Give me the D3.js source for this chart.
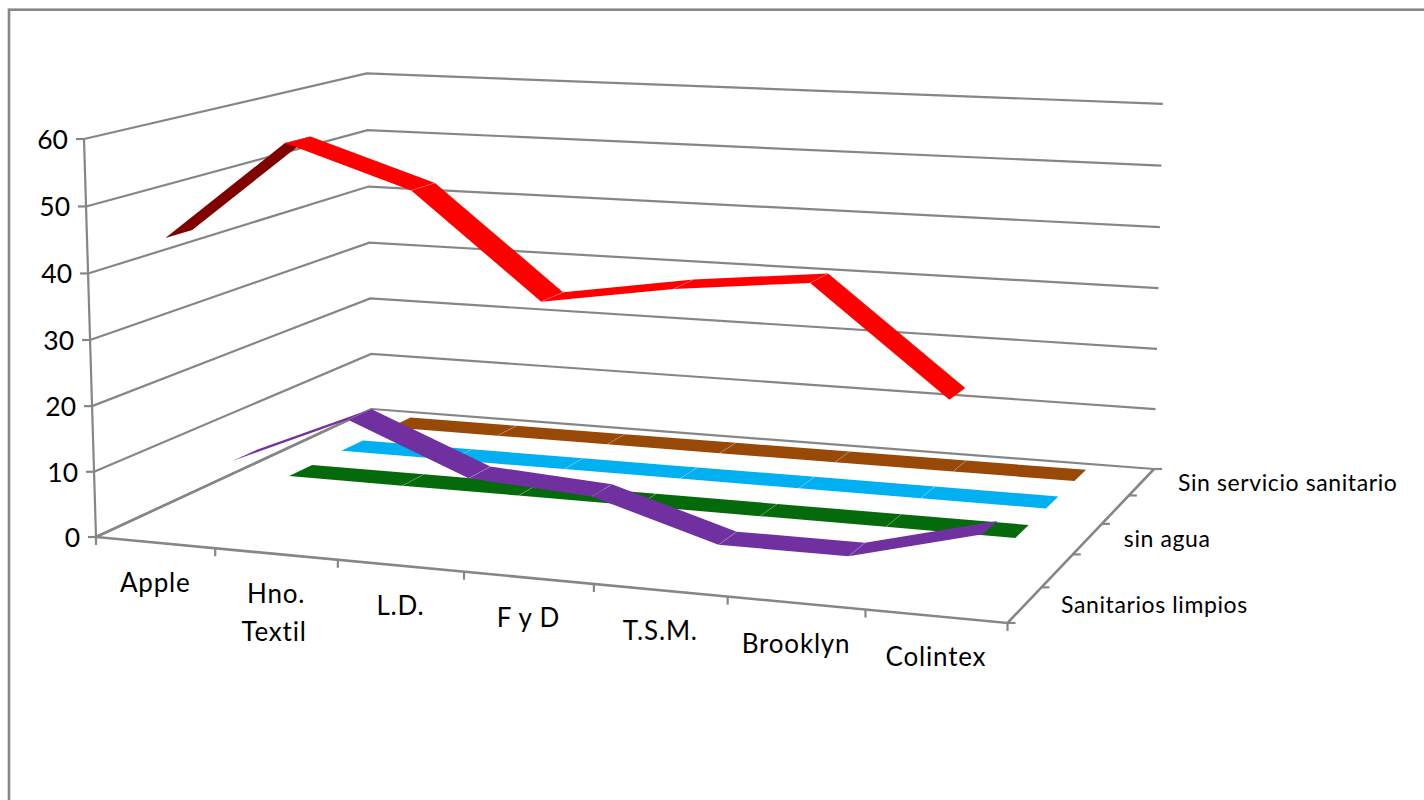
<!DOCTYPE html>
<html lang="es">
<head>
<meta charset="utf-8">
<title>Gráfico de líneas 3D</title>
<script src="https://cdn.jsdelivr.net/npm/d3@7"></script>
<style>
html,body{margin:0;padding:0;background:#fff;overflow:hidden}
svg{display:block}
text{font-family:Lato,"Open Sans",sans-serif;fill:#000}
</style>
</head>
<body>
<svg id="chart" width="1424" height="800"></svg>
<script>
// ---------- data ----------
const categories = ["Apple", "Hno. Textil", "L.D.", "F y D", "T.S.M.", "Brooklyn", "Colintex"];
const depthKeys = ["Sanitarios limpios", "serie 2", "sin agua", "serie 4", "Sin servicio sanitario"];
const depthLabels = ["Sanitarios limpios", "sin agua", "Sin servicio sanitario"];
const valueTicks = [0, 10, 20, 30, 40, 50, 60];
const sanitariosLimpios = [45, 60, 54, 39, 42, 44, 29];
const serie2 = [7, 15, 7.4, 6.2, 0.5, 0.5, 5.5];
const sinAgua = [0.3, 0.3, 0.3, 0.3, 0.3, 0.3, 0.3];
const serie4 = [0.3, 0.3, 0.3, 0.3, 0.3, 0.3, 0.3];
const sinServicio = [0.3, 0.3, 0.3, 0.3, 0.3, 0.3, 0.3];
const seriesValues = [sanitariosLimpios, serie2, sinAgua, serie4, sinServicio];
const seriesColors = ["#ff0000", "#7030a0", "#056a0b", "#00b0f0", "#984807"];
const seriesUnderside = ["#800000", "#7030a0", "#033506", "#005878", "#4c2403"];

// ---------- scales ----------
const uScale = d3.scaleBand().domain(categories).range([0, 1]);
const vScale = d3.scaleBand().domain(depthKeys).range([0, 1]);
const tScale = d3.scaleLinear().domain([0, 60]).range([0, 1]);
const ribbonHalf = 0.043;

// perspective camera of the 3D plot: (u,v,t) -> screen
const cam = {
  a: 813.6, b: 344.4, A: -13.68, c: 96,
  d: 25.4, e: -52.8, B: -400.78, f: 537,
  g: -0.0972, h: 0.1838, C: -0.02, D: 2
};
function project(u, v, t) {
  const w = cam.g * u + cam.h * v + cam.C * t + 1;
  return [(cam.a * u + cam.b * v + cam.A * t + cam.c) / w,
          (cam.d * u + cam.e * v + cam.B * t + cam.D * v * t + cam.f) / w];
}
const uMid = c => uScale(c) + uScale.bandwidth() / 2;
const vMid = k => vScale(k) + vScale.bandwidth() / 2;

const svg = d3.select("#chart");
const line = d3.line();
const GRID = "#868686";

// chart frame (runs off the right and bottom of the picture)
svg.append("rect").attr("x", 9).attr("y", 9.7).attr("width", 1500).attr("height", 900)
  .attr("fill", "#fff").attr("stroke", GRID).attr("stroke-width", 2.6);

// ---------- walls / gridlines ----------
const grid = svg.append("g").attr("fill", "none").attr("stroke", GRID).attr("stroke-width", 2.2);
grid.selectAll("path.g").data(valueTicks).join("path").attr("class", "g")
  .attr("d", d => {
    const t = tScale(d);
    return line([project(0, 0, t), project(0, 1, t), project(1, 1, t)]);
  });
// floor edges and vertical axis
grid.append("path").attr("d", line([project(0, 1, 0), project(0, 0, 0), project(1, 0, 0), project(1, 1, 0)]))
  .attr("stroke-width", 2.6);
grid.append("path").attr("d", line([project(0, 0, 0), project(0, 0, 1)]));

// value ticks & labels
const labels = svg.append("g");
const ticks = svg.append("g").attr("stroke", GRID).attr("stroke-width", 2.2).attr("fill", "none");
valueTicks.forEach(d => {
  const p = project(0, 0, tScale(d));
  ticks.append("path").attr("d", line([p, [p[0] - 8, p[1]]]));
  labels.append("text").attr("x", p[0] - 16).attr("y", p[1] + 10)
    .attr("text-anchor", "end").attr("font-size", 26.5).text(d);
});
// category ticks & labels
d3.range(categories.length + 1).forEach(i => {
  const p = project(i / categories.length, 0, 0);
  ticks.append("path").attr("d", line([p, [p[0], p[1] + 8]]));
});
categories.forEach(c => {
  const p = project(uMid(c), 0, 0);
  const parts = c === "Hno. Textil" ? ["Hno.", "Textil"] : [c];
  parts.forEach((s, i) => {
    labels.append("text").attr("x", p[0] - (i ? 2 : 0)).attr("y", p[1] + 49.5 + i * 38)
      .attr("text-anchor", "middle").attr("font-size", 26).attr("letter-spacing", 0.8).text(s);
  });
});
// depth ticks & labels
d3.range(depthKeys.length + 1).forEach(i => {
  const p = project(1, i / depthKeys.length, 0);
  ticks.append("path").attr("d", line([p, [p[0] + 8, p[1]]]));
});
depthLabels.forEach(k => {
  const p = project(1, vMid(k), 0);
  labels.append("text").attr("x", p[0] + 36.3).attr("y", p[1] + 8.6)
    .attr("font-size", 23).attr("letter-spacing", 0.6).text(k);
});

// ---------- ribbons, back to front ----------
const ribbons = svg.append("g");
d3.range(depthKeys.length - 1, -1, -1).forEach(s => {
  const key = depthKeys[s], vals = seriesValues[s], v = vMid(key);
  const g = ribbons.append("g");
  const front = vals.map((d, i) => project(uMid(categories[i]), v - ribbonHalf, tScale(d)));
  const back = vals.map((d, i) => project(uMid(categories[i]), v + ribbonHalf, tScale(d)));
  d3.pairs(d3.range(vals.length)).forEach(([i, j]) => {
    const poly = [front[i], front[j], back[j], back[i]];
    g.append("path").attr("d", line(poly) + "Z")
      .attr("fill", d3.polygonArea(poly) < 0 ? seriesUnderside[s] : seriesColors[s]);
  });
  d3.range(1, vals.length - 1).forEach(i => {
    g.append("path").attr("d", line([front[i], back[i]]))
      .attr("stroke", "#fff").attr("stroke-opacity", 0.25).attr("stroke-width", 0.8).attr("fill", "none");
  });
});
</script>
</body>
</html>
